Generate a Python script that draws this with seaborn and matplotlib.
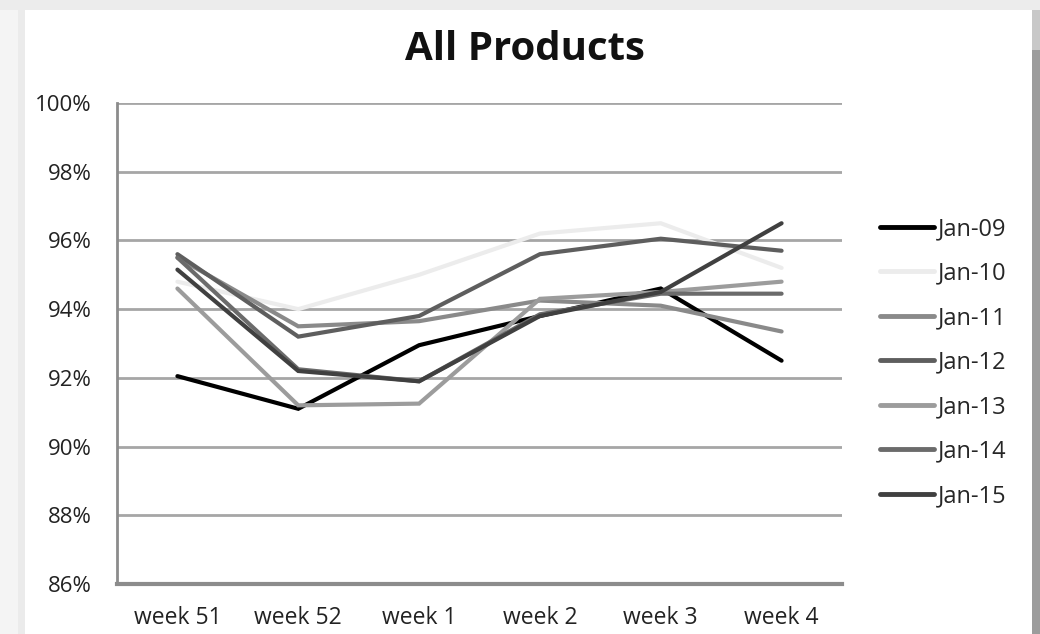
import numpy as np
import pandas as pd
import matplotlib
matplotlib.use("Agg")
import matplotlib.pyplot as plt
from matplotlib.patches import Rectangle
import seaborn as sns

# Weekly in-stock rate (%) per starting month
weeks = ["week 51", "week 52", "week 1", "week 2", "week 3", "week 4"]
series_names = ["Jan-09", "Jan-10", "Jan-11", "Jan-12", "Jan-13", "Jan-14", "Jan-15"]
jan09 = [92.05, 91.10, 92.95, 93.80, 94.60, 92.50]
jan10 = [94.80, 94.00, 95.00, 96.20, 96.50, 95.20]
jan11 = [95.50, 93.50, 93.65, 94.25, 94.10, 93.35]
jan12 = [95.60, 93.20, 93.80, 95.60, 96.05, 95.70]
jan13 = [94.60, 91.20, 91.25, 94.30, 94.50, 94.80]
jan14 = [95.50, 92.25, 91.90, 93.85, 94.45, 94.45]
jan15 = [95.15, 92.20, 91.90, 93.80, 94.50, 96.50]
y_ticks = [86, 88, 90, 92, 94, 96, 98, 100]

colors = ["#000000", "#ececec", "#8a8a8a", "#5e5e5e", "#9c9c9c", "#6b6b6b", "#404040"]

values = [jan09, jan10, jan11, jan12, jan13, jan14, jan15]
df = pd.DataFrame({
    "week": weeks * len(series_names),
    "pos": list(range(len(weeks))) * len(series_names),
    "series": [n for n in series_names for _ in weeks],
    "value": [v for vals in values for v in vals],
})

sns.set_theme(style="white")
plt.rcParams["font.family"] = ["Open Sans", "DejaVu Sans"]

fig = plt.figure(figsize=(10.40, 6.34), dpi=100, facecolor="#f4f4f4")


def band(x0, y0, w, h, color):
    # rectangle in pixel units, measured from the top-left corner
    fig.patches.append(Rectangle((x0 / 1040, 1 - (y0 + h) / 634), w / 1040, h / 634,
                                 transform=fig.transFigure, facecolor=color,
                                 edgecolor="none", zorder=-5))


# card background with soft frame
band(0, 0, 1040, 10, "#ececec")
band(18, 10, 7, 624, "#ebebeb")
band(25, 10, 1007, 624, "white")
band(1032, 10, 8, 40, "#c8c8c8")
band(1032, 50, 8, 584, "#9c9c9c")

ax = fig.add_axes([117 / 1040, 50 / 634, (842 - 117) / 1040, (584 - 103) / 634])
ax.set_facecolor("none")

sns.lineplot(data=df, x="pos", y="value", hue="series", hue_order=series_names,
             palette=colors, linewidth=3.0, sort=False, ax=ax, legend=False)
for line in ax.lines:
    line.set_solid_capstyle("round")
    line.set_solid_joinstyle("miter")

ax.set_xlim(-0.5, len(weeks) - 0.5)
ax.set_ylim(86, 100)
ax.set_yticks(y_ticks)
ax.set_yticklabels([f"{t}%" for t in y_ticks], fontsize=16, color="#222222")
ax.set_xticks(range(len(weeks)))
ax.set_xticklabels(weeks, fontsize=16.5, color="#222222")
ax.set_xticks(np.arange(-0.5, len(weeks), 1.0), minor=True)
ax.tick_params(axis="x", which="major", length=0, pad=16)
ax.tick_params(axis="x", which="minor", length=8, width=1.5, color="#888888", direction="out")
ax.tick_params(axis="y", length=7, width=1.5, color="#888888", direction="out", pad=11)
ax.set_xlabel("")
ax.set_ylabel("")

ax.grid(axis="y", color="#a6a6a6", linewidth=2.0)
ax.set_axisbelow(True)
for side in ["top", "right"]:
    ax.spines[side].set_visible(False)
ax.spines["left"].set_color("#8c8c8c")
ax.spines["left"].set_linewidth(2.0)
ax.spines["bottom"].set_color("#8c8c8c")
ax.spines["bottom"].set_linewidth(3.0)

fig.text(525 / 1040, 1 - 49 / 634, "All Products", ha="center", va="center",
         fontsize=29, fontweight="bold", color="#111111")

handles = [plt.Line2D([], [], color=c, linewidth=3.5, solid_capstyle="round") for c in colors]
fig.legend(handles, series_names, loc="upper left", bbox_to_anchor=(880 / 1040, 1 - 217 / 634),
           frameon=False, fontsize=17, handlelength=2.3, handletextpad=0.15,
           labelspacing=0.87, borderaxespad=0, borderpad=0)

fig.savefig("out.png", dpi=100, facecolor=fig.get_facecolor())
